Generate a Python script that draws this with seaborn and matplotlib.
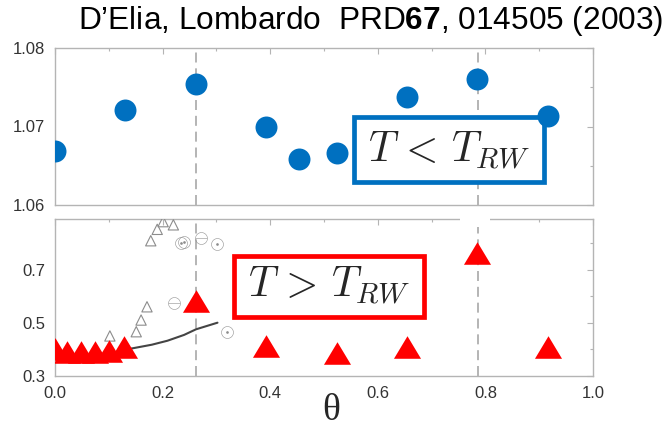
import numpy as np
import pandas as pd
import seaborn as sns
import matplotlib
matplotlib.use("Agg")
import matplotlib.pyplot as plt
from matplotlib.patches import Rectangle
from matplotlib.ticker import MultipleLocator

# ratio for T < T_RW (upper panel)
theta_below = [0.0, 0.131, 0.262, 0.393, 0.454, 0.524, 0.654, 0.785, 0.916]
ratio_below = [1.0669, 1.0721, 1.0754, 1.0699, 1.0658, 1.0666, 1.0737, 1.0761, 1.0714]

# ratio for T > T_RW (lower panel)
theta_above = [0.0, 0.022, 0.049, 0.075, 0.101, 0.128, 0.262, 0.393, 0.524, 0.654, 0.785, 0.916]
ratio_above = [0.400, 0.390, 0.390, 0.390, 0.395, 0.410, 0.584, 0.414, 0.388, 0.409, 0.764, 0.410]

# literature points drawn in grey
lit_tri_theta = [0.102, 0.151, 0.160, 0.171, 0.178, 0.190, 0.201, 0.220]
lit_tri_val = [0.451, 0.467, 0.511, 0.561, 0.810, 0.853, 0.882, 0.870]
lit_minus_theta = [0.221, 0.271]
lit_minus_val = [0.577, 0.820]
lit_dot_theta = [0.234, 0.240, 0.301, 0.320]
lit_dot_val = [0.800, 0.806, 0.798, 0.465]

# strong-coupling curve
fit_theta = [0.120, 0.143, 0.180, 0.209, 0.240, 0.262, 0.302]
fit_val = [0.398, 0.404, 0.418, 0.433, 0.455, 0.476, 0.501]

# special angles pi/12 and pi/4
theta_marks = [np.pi / 12, np.pi / 4]

title_text = "D\u2019Elia, Lombardo  PRD$\\mathbf{67}$, 014505 (2003)"
label_below = r"$T\,<\,T_{RW}$"
label_above = r"$T\,>\,T_{RW}$"

BLUE = "#0070C0"
RED = "#FF0000"
FRAME = "#b4b4b4"
TICKTXT = "#333333"

sns.set_theme(style="white")
plt.rcParams["font.family"] = ["Liberation Sans", "DejaVu Sans"]
plt.rcParams["mathtext.fontset"] = "custom"
plt.rcParams["mathtext.rm"] = "Liberation Sans"
plt.rcParams["mathtext.bf"] = "Liberation Sans:bold"

fig = plt.figure(figsize=(6.68, 4.29), dpi=100)
L, W, H = 55 / 668, 538 / 668, 157 / 429
ax1 = fig.add_axes([L, 1 - 205 / 429, W, H])
ax2 = fig.add_axes([L, 1 - 376 / 429, W, H])

df_below = pd.DataFrame({"theta": theta_below, "ratio": ratio_below})
df_above = pd.DataFrame({"theta": theta_above, "ratio": ratio_above})

tri_wide = [(0, 1), (-1.2, -1), (1.2, -1)]

# dashed guide lines
for ax in (ax1, ax2):
    for t in theta_marks:
        ax.axvline(t, color="#a8a8a8", lw=1.2, ls=(0, (6, 3.5)), zorder=1)

# upper panel
sns.scatterplot(data=df_below, x="theta", y="ratio", ax=ax1, color=BLUE,
                s=250, linewidth=0, zorder=5, legend=False)
ax1.add_patch(Rectangle((0.556, 0.148), 0.352, 0.411, transform=ax1.transAxes,
                        fc="white", ec=BLUE, lw=3.4, zorder=4))
ax1.text(0.732, 0.345, label_below, transform=ax1.transAxes, ha="center",
         va="center", fontsize=30, math_fontfamily="cm", zorder=4.5)
ax1.set_xlim(0, 1)
ax1.set_ylim(1.06, 1.08)
ax1.set_yticks([1.06, 1.07, 1.08])
ax1.yaxis.set_minor_locator(MultipleLocator(0.005))
ax1.xaxis.set_major_locator(MultipleLocator(0.2))
ax1.xaxis.set_minor_locator(MultipleLocator(0.1))
ax1.set_xticklabels([])

# lower panel
sns.lineplot(x=fit_theta, y=fit_val, ax=ax2, color="#444444", lw=1.5, zorder=2)
sns.scatterplot(x=lit_tri_theta, y=lit_tri_val, ax=ax2, marker="^", s=55,
                fc="none", ec="#8c8c8c", linewidth=0.8, zorder=3)
sns.scatterplot(x=lit_minus_theta, y=lit_minus_val, ax=ax2, marker="$\\ominus$",
                s=80, color="#8c8c8c", linewidth=0, zorder=3)
sns.scatterplot(x=lit_dot_theta, y=lit_dot_val, ax=ax2, marker="$\\odot$",
                s=80, color="#8c8c8c", linewidth=0, zorder=3)
ax2.add_patch(Rectangle((0.333, 0.378), 0.353, 0.388, transform=ax2.transAxes,
                        fc="white", ec=RED, lw=3.4, zorder=4))
ax2.text(0.5095, 0.572, label_above, transform=ax2.transAxes, ha="center",
         va="center", fontsize=30, math_fontfamily="cm", zorder=4.5)
# white patch over the top frame near pi/4
ax2.add_patch(Rectangle((0.752, 0.86), 0.056, 0.05, transform=ax2.transData,
                        fc="white", ec="none", zorder=3.5, clip_on=False))
sns.scatterplot(data=df_above, x="theta", y="ratio", ax=ax2, color=RED,
                marker=tri_wide, s=380, linewidth=0, zorder=6, legend=False)
ax2.set_xlim(0, 1)
ax2.set_ylim(0.3, 0.892)
ax2.set_yticks([0.3, 0.5, 0.7])
ax2.yaxis.set_minor_locator(MultipleLocator(0.1))
ax2.xaxis.set_minor_locator(MultipleLocator(0.1))
ax2.set_xticks([0.0, 0.2, 0.4, 0.6, 0.8, 1.0])
ax2.set_xticklabels(["0.0", "0.2", "0.4", "0.6", "0.8", "1.0"])

for ax in (ax1, ax2):
    ax.set_xlabel("")
    ax.set_ylabel("")
    for sp in ax.spines.values():
        sp.set_color(FRAME)
        sp.set_linewidth(1.0)
    ax.tick_params(which="both", direction="in", top=True, right=True,
                   color=FRAME, width=0.8)
    ax.tick_params(which="major", length=4, labelsize=12, labelcolor=TICKTXT,
                   pad=7)
    ax.tick_params(which="minor", length=2.5)

fig.text(331.5 / 668, 1 - 420 / 429, "\u03b8", ha="center", va="baseline",
         fontsize=27, family="Liberation Serif")
fig.text(371 / 668, 1 - 21 / 429, title_text, ha="center", va="center",
         fontsize=22.8, color="black")

fig.savefig("out.png", dpi=100)
